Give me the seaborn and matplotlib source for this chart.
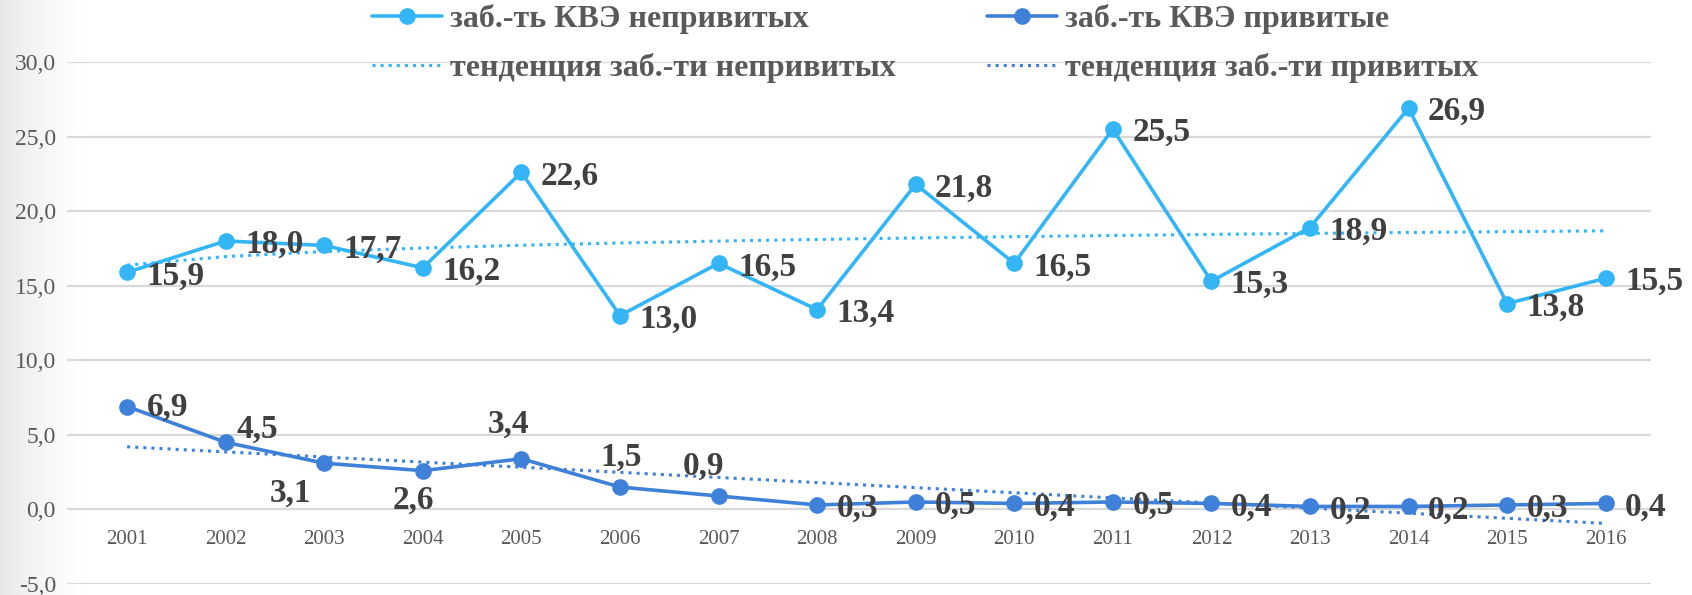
import numpy as np
import pandas as pd
import matplotlib
matplotlib.use("Agg")
import matplotlib.pyplot as plt
import seaborn as sns
from matplotlib.ticker import FuncFormatter

# ---------------- data ----------------
years = [str(y) for y in range(2001, 2017)]
unvaccinated = [15.9, 18.0, 17.7, 16.2, 22.6, 13.0, 16.5, 13.4,
                21.8, 16.5, 25.5, 15.3, 18.9, 26.9, 13.8, 15.5]
vaccinated = [6.9, 4.5, 3.1, 2.6, 3.4, 1.5, 0.9, 0.3,
              0.5, 0.4, 0.5, 0.4, 0.2, 0.2, 0.3, 0.4]
series_names = ["заб.-ть КВЭ непривитых", "заб.-ть КВЭ привитые"]
trend_names = ["тенденция заб.-ти непривитых", "тенденция заб.-ти привитых"]
y_ticks = [-5, 0, 5, 10, 15, 20, 25, 30]

# ---------------- style ----------------
C_UNV = "#33B5F6"
C_VAC = "#3F80D8"
TXT = "#595959"
LBL = "#404040"

sns.set_theme(style="white")
plt.rcParams["font.family"] = ["Liberation Serif", "DejaVu Serif"]

fig = plt.figure(figsize=(16.92, 5.95), dpi=100)

# faint gray gradient at the left edge
bg = fig.add_axes([0, 0, 1, 1], zorder=-10)
grad = np.linspace(0, 1, 400)
alpha = np.clip(1 - grad / 0.05, 0, 1) ** 1.5
img = np.ones((2, 400, 4))
img[..., :3] = 0.91
img[..., 3] = alpha
bg.imshow(img, aspect="auto", extent=[0, 1, 0, 1])
bg.set_xlim(0, 1); bg.set_ylim(0, 1)
bg.axis("off")

ax = fig.add_axes([67 / 1692, 11 / 595, 1584 / 1692, 522 / 595])
ax.patch.set_alpha(0)

x = np.arange(len(years))
df = pd.DataFrame({"x": x, "year": years,
                   "unv": unvaccinated, "vac": vaccinated})

# trend lines (Excel-like: logarithmic for unvaccinated, linear for vaccinated)
t = x + 1
b, a = np.polyfit(np.log(t), df["unv"], 1)
df["unv_trend"] = a + b * np.log(t)
m, c = np.polyfit(t, df["vac"], 1)
df["vac_trend"] = m * t + c

sns.lineplot(data=df, x="x", y="unv", ax=ax, color=C_UNV, lw=2.6,
             marker="o", markersize=12, markeredgewidth=0,
             label=series_names[0], zorder=3)
sns.lineplot(data=df, x="x", y="vac", ax=ax, color=C_VAC, lw=2.6,
             marker="o", markersize=12, markeredgewidth=0,
             label=series_names[1], zorder=3)
sns.lineplot(data=df, x="x", y="unv_trend", ax=ax, color=C_UNV, lw=2.2,
             linestyle=":", label=trend_names[0], zorder=4)
sns.lineplot(data=df, x="x", y="vac_trend", ax=ax, color=C_VAC, lw=2.2,
             linestyle=":", label=trend_names[1], zorder=4)

ax.set_xlim(-0.61, 15.46)
ax.set_ylim(-5, 30)
ax.set_yticks(y_ticks)
ax.yaxis.set_major_formatter(FuncFormatter(lambda v, p: f"{v:.1f}".replace(".", ",")))
ax.set_xticks(x, years)
ax.set_xlabel("")
ax.set_ylabel("")
ax.yaxis.grid(True, color="#D9D9D9", lw=1.6)
ax.xaxis.grid(False)
for s in ax.spines.values():
    s.set_visible(False)
ax.spines["bottom"].set_position(("data", 0))
ax.tick_params(axis="x", length=0, pad=15, labelsize=15, labelcolor=TXT)
ax.tick_params(axis="y", length=0, pad=8, labelsize=17, labelcolor=TXT)

# ---------------- data labels ----------------
def fmt(v):
    return f"{v:.1f}".replace(".", ",")

lab_kw = dict(textcoords="offset points", fontsize=24, fontweight="bold",
              color=LBL, zorder=6)
for i, v in enumerate(df["unv"]):
    ax.annotate(fmt(v), xy=(i, v), xytext=(14, 0), ha="left",
                va="center_baseline", **lab_kw)

vac_offsets = [(14, 2, "left"), (8, 12, "left"), (-24, -19, "center"),
               (-7, -19, "center"), (-9, 27, "center"), (1, 24, "center"),
               (-11, 24, "center")] + [(14, 0, "left")] * 9
for i, v in enumerate(df["vac"]):
    dx, dy, ha = vac_offsets[i]
    ax.annotate(fmt(v), xy=(i, v), xytext=(dx, dy), ha=ha,
                va="center_baseline", **lab_kw)

# ---------------- legend ----------------
handles, labels = ax.get_legend_handles_labels()
ax.get_legend().remove()
hmap = dict(zip(labels, handles))
leg_kw = dict(loc="upper left", bbox_transform=fig.transFigure, frameon=False,
              prop={"weight": "bold", "size": 23}, labelcolor=TXT,
              handlelength=2.2, handletextpad=0.25, labelspacing=0.6,
              borderaxespad=0, borderpad=0)
leg1 = fig.legend([hmap[series_names[0]], hmap[trend_names[0]]],
                  [series_names[0], trend_names[0]],
                  bbox_to_anchor=(372 / 1692, 0.993), **leg_kw)
leg2 = fig.legend([hmap[series_names[1]], hmap[trend_names[1]]],
                  [series_names[1], trend_names[1]],
                  bbox_to_anchor=(987 / 1692, 0.993), **leg_kw)

fig.savefig("out.png", dpi=100)
